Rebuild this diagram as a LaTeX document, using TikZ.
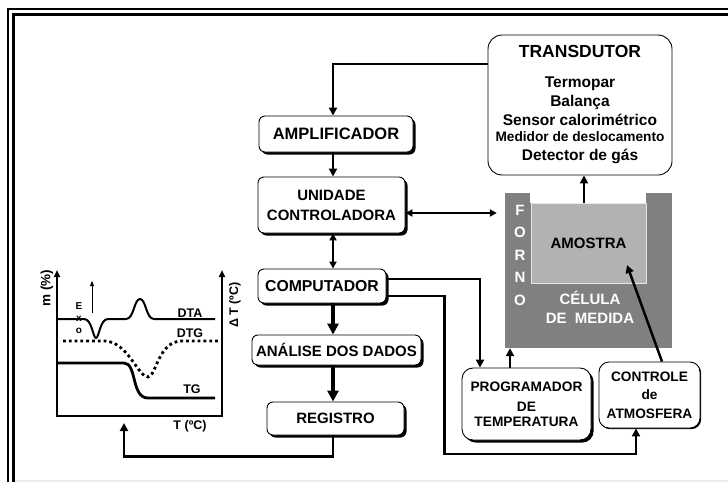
\documentclass[tikz,border=0pt]{standalone}
\usepackage{fontspec}
\setmainfont{Liberation Sans}
\usetikzlibrary{arrows.meta,shadows}

\begin{document}
\begin{tikzpicture}[
  x=1pt, y=-1pt,
  font=\bfseries,
  box/.style={draw, line width=0.9pt, fill=white, rounded corners=6pt, align=center, inner sep=0pt,
    font=\fontsize{15}{20}\selectfont\bfseries,
    drop shadow={fill=black, opacity=1, shadow xshift=2.5pt, shadow yshift=-2.5pt}},
  tbox/.style={draw, line width=0.9pt, fill=white, rounded corners=14pt, align=center, inner sep=0pt,
    font=\fontsize{15.5}{19}\selectfont\bfseries},
  pbox/.style={box, rounded corners=11pt, font=\fontsize{13.7}{18}\selectfont\bfseries},
  abox/.style={draw, line width=0.9pt, fill=white, rounded corners=10pt, align=center, inner sep=0pt,
    font=\fontsize{13.7}{18.5}\selectfont\bfseries,
    drop shadow={fill=black, opacity=1, shadow xshift=1.2pt, shadow yshift=-1.2pt}},
  oven/.style={fill=gray, inner sep=0pt},
  wlbl/.style={text=white, align=center, inner sep=0pt, font=\fontsize{15}{19}\selectfont\bfseries},
  lbl/.style={inner sep=0pt, font=\fontsize{12.5}{14}\selectfont\bfseries},
  arr/.style={line width=2.5pt, -{Triangle[length=8pt,width=8pt]}},
  bigarr/.style={line width=3.5pt, -{Triangle[length=11pt,width=11pt]}},
  darr/.style={line width=2pt, {Triangle[length=7pt,width=7pt]}-{Triangle[length=7pt,width=7pt]}},
  axis/.style={line width=2.5pt, line join=miter, {Triangle[length=7pt,width=6pt]}-{Triangle[length=7pt,width=6pt]}},
  curve/.style={line width=2pt},
  dotcurve/.style={line width=2.8pt, dash pattern=on 2.8pt off 3pt}
]
\useasboundingbox (0,0) rectangle (728,482);

% moldura dupla
\draw[line width=2.5pt] (8,482) -- (8,9) -- (728,9);
\draw[line width=2.5pt] (13.5,482) -- (13.5,14.5) -- (728,14.5);
\draw[gray!15, line width=1.5pt] (15,481) -- (728,481);

% coluna central
\coordinate (col) at (333,0);
\node[box, minimum width=154, minimum height=36, font=\fontsize{16.5}{20}\selectfont\bfseries] (amp) at (336,134) {AMPLIFICADOR};
\node[box, minimum width=147, minimum height=56] (ctl) at (331.5,205) {UNIDADE\\CONTROLADORA};
\node[box, minimum width=128, minimum height=34, font=\fontsize{15.8}{20}\selectfont\bfseries] (comp) at (322,286) {COMPUTADOR};
\node[box, minimum width=169, minimum height=30] (ana) at (336.5,350) {ANÁLISE DOS DADOS};
\node[box, minimum width=137, minimum height=33] (reg) at (335.5,418.5) {REGISTRO};

% transdutor
\node[tbox, minimum width=184, minimum height=140] (trans) at (580,105)
  {{\fontsize{17.5}{20}\selectfont TRANSDUTOR}\\[11pt] Termopar\\ Balança\\ Sensor calorimétrico\\[-3pt]
   {\fontsize{13.7}{16}\selectfont Medidor de deslocamento}\\ Detector de gás};

% forno e amostra
\node[oven, minimum width=167, minimum height=155] (oven) at (588.5,270.5) {};
\fill[white] (530,192) rectangle (646,203);
\node[fill=gray!60, draw=gray!20, line width=0.8pt, minimum width=115, minimum height=80, inner sep=0pt,
  font=\fontsize{15}{18}\selectfont\bfseries] (sample) at (588.5,243) {AMOSTRA};
\node[wlbl, font=\fontsize{15}{22.5}\selectfont\bfseries] (forno) at (520,255) {F\\O\\R\\N\\O};
\node[wlbl] (cell) at (590,307.5) {CÉLULA\\DE~~MEDIDA};

% programador e atmosfera
\node[pbox, minimum width=129, minimum height=72] (prog) at (526.5,404) {PROGRAMADOR\\[2pt] DE\\[-3pt] TEMPERATURA};
\node[abox, minimum width=101, minimum height=66] (atm) at (649.5,395) {CONTROLE\\ de\\ ATMOSFERA};

% gráfico
\draw[axis] (57,270) -- (57,416) -- (222,416) -- (222,270);
\draw[curve] (57,319) -- (84,319) .. controls (92,319) and (93,338) .. (96,338)
  .. controls (99,338) and (100,319) .. (108,319) -- (126,319)
  .. controls (134,319) and (134,299) .. (140,299)
  .. controls (146,299) and (146,319) .. (154,319) -- (215,319);
\draw[dotcurve] (63,341) -- (105,341) .. controls (128,342) and (138,377) .. (148,377)
  .. controls (156,377) and (158,341) .. (182,341) -- (218,341);
\draw[curve, line width=2.8pt] (57,363) -- (124,363) .. controls (137,363) and (131,398) .. (148,398) -- (215,398);
\node[lbl] (dta) at (190,313) {DTA};
\node[lbl] (dtg) at (190,333) {DTG};
\node[lbl] (tg) at (192,389) {TG};
\node[lbl] (temp) at (190,426) {T (ºC)};
\node[lbl, font=\fontsize{13.5}{16}\selectfont\bfseries, rotate=90] (mass) at (47,288) {m (\%)};
\node[lbl, rotate=90] (dT) at (235,305) {Δ T (ºC)};
\node[lbl, align=center, font=\fontsize{10}{12}\selectfont\bfseries] (exo) at (79,318) {E\\x\\o};
\draw[line width=1pt, -{Triangle[length=5pt,width=4pt]}] (92,313) -- (92,281);
\coordinate (tin) at (124,423);

% ligações
\draw[arr] ([yshift=41pt]trans.west) -| (amp.north -| col);
\draw[arr] (amp.south -| col) -- (ctl.north -| col);
\draw[darr] (ctl.south -| col) -- (comp.north -| col);
\draw[bigarr] (comp.south -| col) -- (ana.north -| col);
\draw[bigarr] (ana.south -| col) -- (reg.north -| col);
\draw[arr] (reg.south -| col) -- ++(0,21) -| (tin);
\draw[darr, shorten >=8pt] ([yshift=-8pt]ctl.east) -- ([yshift=-8pt]ctl.east -| oven.west);
\draw[arr] ([xshift=4pt]sample.north -| trans.south) -- ([xshift=4pt]trans.south);
\draw[arr, line width=2pt] ([yshift=7pt]comp.east) -| ([xshift=-46.5pt]prog.north);
\draw[arr] ([yshift=-10pt]comp.east) -- ++(58,0) -- ++(0,158) -| ([xshift=-13.5pt]atm.south);
\draw[arr] ([xshift=-16.5pt]prog.north) -- ([xshift=-16.5pt]prog.north |- oven.south);
\draw[arr] ([xshift=12.5pt]atm.north) -- ([xshift=38.5pt,yshift=-22pt]sample.center);

\end{tikzpicture}
\end{document}
